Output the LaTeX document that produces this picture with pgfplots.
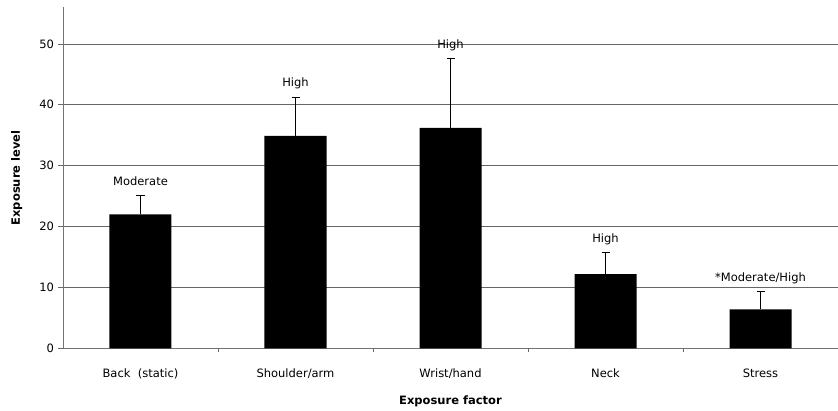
\documentclass[border=0pt]{standalone}
\usepackage{fontspec}
\setmainfont{DejaVu Sans}
\usepackage{pgfplots}
\pgfplotsset{compat=1.18}
\pgfplotstableread{
x y e
0 22.0 3.1
1 34.9 6.3
2 36.2 11.4
3 12.2 3.5
4 6.4 2.9
}\datatable
\begin{document}
\fontsize{11.5bp}{13bp}\selectfont
\begin{tikzpicture}
\begin{axis}[
  scale only axis, width=775bp, height=340.9bp,
  xmin=-0.5, xmax=4.5, ymin=0, ymax=56,
  axis x line=bottom, axis y line=left,
  axis line style={-, black!55, line width=0.8bp},
  xtick={0,1,2,3,4},
  xticklabels={Back\ \ (static), Shoulder/arm, Wrist/hand, Neck, Stress},
  major x tick style={draw=none},
  extra x ticks={0.5,1.5,2.5,3.5}, extra x tick labels={},
  extra x tick style={major tick length=4bp, major x tick style={draw=black!60, line width=0.8bp}},
  ytick={0,10,...,50},
  tick align=outside, major tick length=5bp,
  major y tick style={draw=black!60, line width=0.8bp},
  ymajorgrids, grid style={black!60, line width=0.8bp},
  /pgf/number format/assume math mode=true,
  tick label style={font=\fontsize{11.5bp}{13bp}\selectfont, text=black},
  xticklabel style={anchor=base, yshift=-24bp},
  xlabel={\bfseries Exposure factor},
  ylabel={\bfseries Exposure level},
  xlabel style={at={(rel axis cs:0.5,0)}, anchor=base, yshift=-56bp, font=\fontsize{11.5bp}{13bp}\selectfont},
  ylabel style={at={(rel axis cs:0,0.5)}, anchor=base, yshift=43bp, font=\fontsize{11.5bp}{13bp}\selectfont},
]
\addplot[ybar, bar width=62bp, fill=black, draw=none]
  table[x=x, y=y] {\datatable};
\addplot[draw=none, mark=none,
  error bars/.cd, y dir=plus, y explicit,
  error bar style={draw=black, line width=0.8bp},
  error mark=|,
  error mark options={draw=black, mark size=4bp, line width=0.8bp}]
  table[x=x, y=y, y error=e] {\datatable};
\node[anchor=base, yshift=10.5bp] at (axis cs:0,25.1) {Moderate};
\node[anchor=base, yshift=10.5bp] at (axis cs:1,41.2) {High};
\node[anchor=base, yshift=10.5bp] at (axis cs:2,47.6) {High};
\node[anchor=base, yshift=10.5bp] at (axis cs:3,15.7) {High};
\node[anchor=base, yshift=10.5bp] at (axis cs:4,9.3) {*Moderate/High};
\coordinate (O) at (rel axis cs:0,0);
\end{axis}
\pgfresetboundingbox
\path ([shift={(-63bp,-62.7bp)}]O) rectangle ([shift={(775bp,348.3bp)}]O);
\end{tikzpicture}
\end{document}
